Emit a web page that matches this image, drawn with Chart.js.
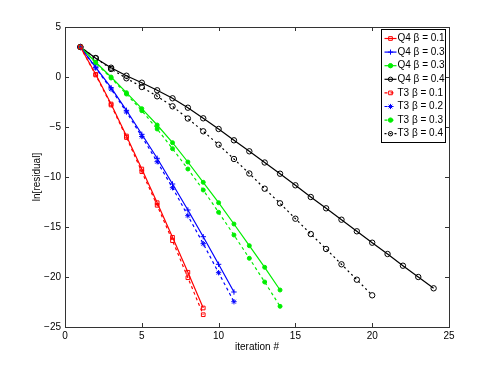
<!DOCTYPE html>
<html>
<head>
<meta charset="utf-8">
<script src="https://cdn.jsdelivr.net/npm/chart.js@4.4.1/dist/chart.umd.min.js"></script>
<style>
  html, body { margin: 0; padding: 0; background: #fff; }
</style>
</head>
<body>
<canvas id="chart" width="497" height="368"></canvas>
<script>
var iterations = [1, 2, 3, 4, 5, 6, 7, 8, 9, 10, 11, 12, 13, 14, 15, 16, 17, 18, 19, 20, 21, 22, 23, 24];

var q4b01 = [3, 0.27, -2.7, -5.9, -9.2, -12.57, -16.03, -19.53, -23.1];
var q4b03blue = [3, 0.97, -1.07, -3.33, -5.73, -8.13, -10.7, -13.3, -15.97, -18.73, -21.5];
var q4b03green = [3, 1.47, 0.0, -1.57, -3.17, -4.8, -6.57, -8.5, -10.53, -12.57, -14.7, -16.87, -19.03, -21.3];
var q4b04 = [3, 1.87, 0.93, 0.13, -0.57, -1.33, -2.13, -3.07, -4.13, -5.2, -6.33, -7.43, -8.55, -9.67,
             -10.83, -12.0, -13.13, -14.27, -15.43, -16.57, -17.7, -18.87, -20.0, -21.13];
var t3b01 = [3, 0.2, -2.8, -6.05, -9.47, -12.83, -16.37, -20.07, -23.77];
var t3b02 = [3, 0.9, -1.2, -3.5, -5.95, -8.47, -11.07, -13.87, -16.67, -19.57, -22.47];
var t3b03 = [3, 1.4, -0.1, -1.7, -3.37, -5.2, -7.17, -9.2, -11.3, -13.53, -15.8, -18.13, -20.5, -22.93];
var t3b04 = [3, 1.9, 0.8, -0.13, -1.0, -1.93, -2.93, -4.15, -5.43, -6.77, -8.2, -9.65, -11.17, -12.63,
             -14.17, -15.7, -17.2, -18.73, -20.27, -21.83];

var seriesLabels = ["Q4 \u03b2 = 0.1", "Q4 \u03b2 = 0.3", "Q4 \u03b2 = 0.3", "Q4 \u03b2 = 0.4",
                    "T3 \u03b2 = 0.1", "T3 \u03b2 = 0.2", "T3 \u03b2 = 0.3", "T3 \u03b2 = 0.4"];
var seriesValues = [q4b01, q4b03blue, q4b03green, q4b04, t3b01, t3b02, t3b03, t3b04];
var seriesColors = ["#ff0000", "#0000ff", "#00ee00", "#000000", "#ff0000", "#0000ff", "#00ee00", "#000000"];
var seriesMarkers = ["rect", "cross", "circle", "circle", "rect", "star", "circle", "circle"];
var seriesDash = [[], [], [], [], [3, 3], [3, 3], [3, 3], [2, 3]];

function toPoints(vals) {
  return vals.map(function (v, i) { return { x: iterations[i], y: v }; });
}

var datasets = seriesValues.map(function (vals, k) {
  var m = seriesMarkers[k];
  var hollow = (m === "rect" || (m === "circle" && seriesColors[k] === "#000000"));
  var r = 2.7;
  if (m === "circle" && !hollow) r = 2;
  if (m === "rect") r = 2.6;
  return {
    label: seriesLabels[k],
    data: toPoints(vals),
    borderColor: seriesColors[k],
    backgroundColor: hollow ? "rgba(0,0,0,0)" : seriesColors[k],
    pointBorderColor: seriesColors[k],
    pointBackgroundColor: hollow ? "rgba(255,255,255,0)" : seriesColors[k],
    pointStyle: m,
    pointRadius: r,
    pointBorderWidth: 1,
    borderWidth: 1.2,
    borderDash: seriesDash[k],
    fill: false,
    tension: 0
  };
});

function fmt(v) { return String(v).replace("-", "\u2212"); }

var frame = {
  id: "frame",
  afterDraw: function (chart) {
    var ctx = chart.ctx, a = chart.chartArea;
    var xs = chart.scales.x, ys = chart.scales.y;
    ctx.save();
    ctx.strokeStyle = "#333";
    ctx.lineWidth = 1;
    ctx.strokeRect(Math.round(a.left) + 0.5, Math.round(a.top) + 0.5,
                   Math.round(a.right - a.left), Math.round(a.bottom - a.top));
    ctx.beginPath();
    xs.ticks.forEach(function (t) {
      var px = Math.round(xs.getPixelForValue(t.value)) + 0.5;
      ctx.moveTo(px, a.bottom); ctx.lineTo(px, a.bottom - 4);
      ctx.moveTo(px, a.top); ctx.lineTo(px, a.top + 4);
    });
    ys.ticks.forEach(function (t) {
      var py = Math.round(ys.getPixelForValue(t.value)) + 0.5;
      ctx.moveTo(a.left, py); ctx.lineTo(a.left + 4, py);
      ctx.moveTo(a.right, py); ctx.lineTo(a.right - 4, py);
    });
    ctx.stroke();

    // legend box inside the plot, top right
    var bx = 381.5, by = 29.5, bw = 64, bh = 113;
    ctx.fillStyle = "#fff";
    ctx.fillRect(bx, by, bw, bh);
    ctx.strokeStyle = "#000";
    ctx.strokeRect(bx, by, bw, bh);
    ctx.font = "10px 'Liberation Sans', Arial, sans-serif";
    ctx.textBaseline = "middle";
    chart.data.datasets.forEach(function (ds, k) {
      var y = by + 9 + k * 13.6;
      ctx.strokeStyle = ds.borderColor;
      ctx.lineWidth = 1.2;
      ctx.setLineDash(ds.borderDash);
      ctx.beginPath();
      ctx.moveTo(bx + 3, y); ctx.lineTo(bx + 15, y);
      ctx.stroke();
      ctx.setLineDash([]);
      ctx.lineWidth = 1;
      ctx.fillStyle = ds.pointBackgroundColor;
      Chart.helpers.drawPoint(ctx, {
        pointStyle: ds.pointStyle, radius: ds.pointStyle === "circle" ? 2.2 : 2.6,
        rotation: 0, borderWidth: 1
      }, bx + 9, y);
      ctx.fillStyle = "#000";
      ctx.fillText(ds.label, bx + 16, y);
    });
    ctx.restore();
  }
};

var tickFont = { family: "'Liberation Sans', Arial, sans-serif", size: 10 };

new Chart("chart", {
  type: "line",
  data: { datasets: datasets },
  options: {
    responsive: false,
    animation: false,
    layout: { padding: { left: 31, right: 48, top: 27, bottom: 15 } },
    plugins: { legend: { display: false }, tooltip: { enabled: false } },
    scales: {
      x: {
        type: "linear", min: 0, max: 25,
        grid: { display: false, drawTicks: false, tickLength: 0 }, border: { display: false },
        ticks: { stepSize: 5, padding: 3, color: "#000", maxRotation: 0, font: tickFont, callback: fmt },
        title: { display: true, text: "iteration #", color: "#000", padding: { top: 0, bottom: 0 }, font: tickFont },
        afterFit: function (s) { s.height = 26; }
      },
      y: {
        type: "linear", min: -25, max: 5,
        grid: { display: false, drawTicks: false, tickLength: 0 }, border: { display: false },
        ticks: { stepSize: 5, padding: 4, color: "#000", font: tickFont, callback: fmt },
        title: { display: true, text: "ln[residual]", color: "#000", padding: { top: 0, bottom: 0 }, font: tickFont },
        afterFit: function (s) { s.width = 34; }
      }
    }
  },
  plugins: [frame]
});
</script>
</body>
</html>
